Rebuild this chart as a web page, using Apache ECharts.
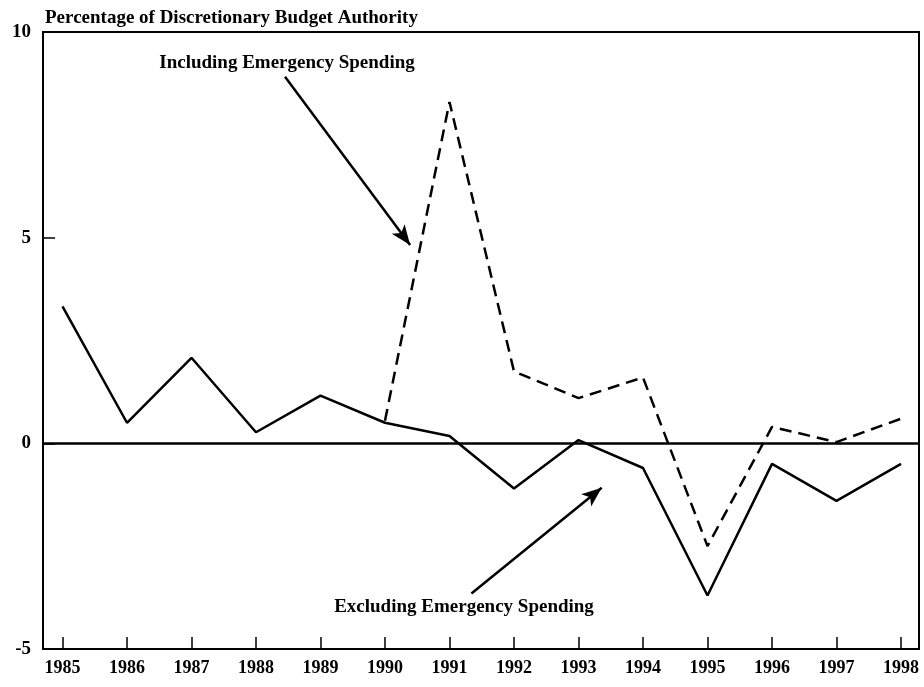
<!DOCTYPE html>
<html>
<head>
<meta charset="utf-8">
<script src="https://cdn.jsdelivr.net/npm/echarts@6/dist/echarts.min.js"></script>
<style>html,body{margin:0;padding:0;background:#fff}#c{width:924px;height:687px}</style>
</head>
<body>
<div id="c"></div>
<script>
var years = [1985,1986,1987,1988,1989,1990,1991,1992,1993,1994,1995,1996,1997,1998];
var excluding = [3.33,0.5,2.08,0.27,1.16,0.5,0.18,-1.1,0.08,-0.6,-3.7,-0.5,-1.4,-0.5];
var including = [null,null,null,null,null,0.55,8.3,1.75,1.1,1.6,-2.5,0.4,0.03,0.6];
var yTicks = [-5,0,5,10];
var titleText = 'Percentage of Discretionary Budget Authority';
var inclLabel = 'Including Emergency Spending';
var exclLabel = 'Excluding Emergency Spending';

var FONT = '"Liberation Serif","Times New Roman",serif';
function pairs(v){ return years.map(function(y,i){ return [y, v[i]]; }); }

var chart = echarts.init(document.getElementById('c'));
chart.setOption({
  animation:false,
  backgroundColor:'#fff',
  title:{text:titleText,left:40,top:4,textStyle:{fontFamily:FONT,fontWeight:'bold',fontSize:19,color:'#000'}},
  grid:{left:43,right:5,top:32,bottom:38,show:true,borderColor:'#000',borderWidth:2},
  xAxis:{type:'value',min:1984.698,max:1998.279,
    axisLine:{show:true,onZero:false,lineStyle:{color:'#000',width:2}},
    axisTick:{show:true,inside:true,length:12,customValues:years,lineStyle:{color:'#000',width:1.5}},
    axisLabel:{customValues:years,formatter:function(v){return String(v);},fontFamily:FONT,fontWeight:'bold',fontSize:18,color:'#000',margin:10},
    splitLine:{show:false}},
  yAxis:{type:'value',min:-5,max:10,interval:5,
    axisLine:{show:true,lineStyle:{color:'#000',width:2}},
    axisTick:{show:true,inside:true,length:12,customValues:yTicks,lineStyle:{color:'#000',width:1.5}},
    axisLabel:{customValues:yTicks,fontFamily:FONT,fontWeight:'bold',fontSize:19,color:'#000',margin:12},
    splitLine:{show:false}},
  series:[
    {type:'line',data:pairs(excluding),symbol:'none',lineStyle:{color:'#000',width:2.5},
     markLine:{silent:true,symbol:['none','none'],label:{show:false},
       data:[{yAxis:0,lineStyle:{color:'#000',width:2.5,type:'solid'}}]}},
    {type:'line',data:pairs(including),symbol:'none',connectNulls:false,
     lineStyle:{color:'#000',width:2.5,type:[12,7]},
     markLine:{silent:true,symbol:['none','arrow'],symbolSize:[12,20],label:{show:false},
       lineStyle:{color:'#000',width:2.5,type:'solid'},
       data:[
         [{coord:[1988.45,8.91]},{coord:[1990.39,4.82]}],
         [{coord:[1991.34,-3.65]},{coord:[1993.36,-1.08]}]
       ]}}
  ],
  graphic:[
    {type:'text',style:{text:inclLabel,x:287,y:63,align:'center',verticalAlign:'middle',font:'bold 19px '+FONT,fill:'#000'}},
    {type:'text',style:{text:exclLabel,x:464,y:607,align:'center',verticalAlign:'middle',font:'bold 19px '+FONT,fill:'#000'}}
  ]
});
</script>
</body>
</html>
